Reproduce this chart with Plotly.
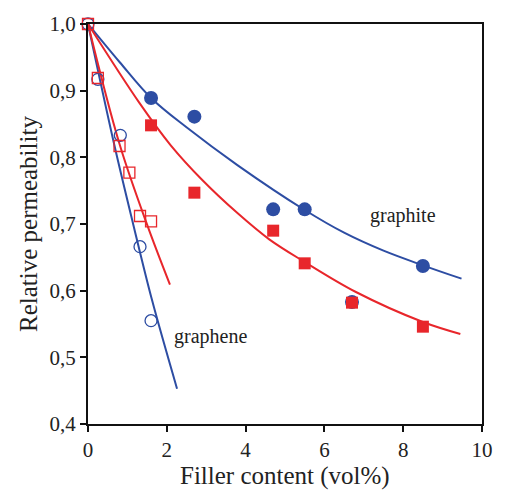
import plotly.graph_objects as go

# Measured permeability (filled: graphite, open: graphene)
graphite_circ_x = [1.6, 2.7, 4.7, 5.5, 6.7, 8.5]
graphite_circ_y = [0.889, 0.861, 0.722, 0.722, 0.583, 0.637]
graphite_sq_x = [1.6, 2.7, 4.7, 5.5, 6.7, 8.5]
graphite_sq_y = [0.848, 0.747, 0.690, 0.641, 0.582, 0.546]

graphene_circ_x = [0.0, 0.25, 0.82, 1.32, 1.6]
graphene_circ_y = [1.0, 0.917, 0.833, 0.666, 0.555]
graphene_sq_x = [0.0, 0.25, 0.8, 1.05, 1.32, 1.6]
graphene_sq_y = [1.0, 0.919, 0.817, 0.777, 0.712, 0.704]

# Model curves
fit_graphite_blue_x = [0.0, 0.8, 1.6, 2.5, 3.8, 5.5, 6.5, 7.5, 8.5, 9.48]
fit_graphite_blue_y = [1.0, 0.943, 0.889, 0.845, 0.788, 0.721, 0.687, 0.660, 0.638, 0.618]
fit_graphite_red_x = [0.0, 1.3, 2.1, 2.9, 3.8, 4.6, 5.5, 6.8, 8.5, 9.45]
fit_graphite_red_y = [1.0, 0.882, 0.818, 0.766, 0.716, 0.677, 0.643, 0.598, 0.553, 0.535]
fit_graphene_blue_x = [0.0, 0.67, 1.15, 1.62, 2.26]
fit_graphene_blue_y = [1.0, 0.818, 0.699, 0.587, 0.453]
fit_graphene_red_x = [0.0, 0.8, 1.5, 2.08]
fit_graphene_red_y = [1.0, 0.820, 0.699, 0.609]

x_ticks = [0, 2, 4, 6, 8, 10]
y_ticks = [0.4, 0.5, 0.6, 0.7, 0.8, 0.9, 1.0]
y_tick_text = ["0,4", "0,5", "0,6", "0,7", "0,8", "0,9", "1,0"]

BLUE = "#2d4da3"
RED = "#e8262b"
FONT = "Liberation Serif"

fig = go.Figure()

for fx, fy, col in [
    (fit_graphite_blue_x, fit_graphite_blue_y, BLUE),
    (fit_graphite_red_x, fit_graphite_red_y, RED),
    (fit_graphene_blue_x, fit_graphene_blue_y, BLUE),
    (fit_graphene_red_x, fit_graphene_red_y, RED),
]:
    fig.add_trace(go.Scatter(
        x=fx, y=fy, mode="lines",
        line=dict(color=col, width=2, shape="spline", smoothing=1.0),
        showlegend=False, hoverinfo="skip",
    ))

fig.add_trace(go.Scatter(
    x=graphite_circ_x, y=graphite_circ_y, mode="markers",
    marker=dict(symbol="circle", size=14, color=BLUE, line=dict(width=0)),
    showlegend=False, cliponaxis=False,
))
fig.add_trace(go.Scatter(
    x=graphite_sq_x, y=graphite_sq_y, mode="markers",
    marker=dict(symbol="square", size=12, color=RED, line=dict(width=0)),
    showlegend=False, cliponaxis=False,
))
fig.add_trace(go.Scatter(
    x=graphene_circ_x, y=graphene_circ_y, mode="markers",
    marker=dict(symbol="circle-open", size=12, color=BLUE, line=dict(width=1.3)),
    showlegend=False, cliponaxis=False,
))
fig.add_trace(go.Scatter(
    x=graphene_sq_x, y=graphene_sq_y, mode="markers",
    marker=dict(symbol="square-open", size=11, color=RED, line=dict(width=1.3)),
    showlegend=False, cliponaxis=False,
))

fig.add_annotation(x=8.0, y=0.713, text="graphite", showarrow=False,
                   font=dict(family=FONT, size=20, color="#222"))
fig.add_annotation(x=3.12, y=0.531, text="graphene", showarrow=False,
                   font=dict(family=FONT, size=20, color="#222"))

fig.add_annotation(xref="paper", yref="paper", x=0.5, y=0, yanchor="middle",
                   yshift=-52, text="Filler content (vol%)", showarrow=False,
                   font=dict(family=FONT, size=25, color="#222"))
fig.add_annotation(xref="paper", yref="paper", x=0, y=0.5, xanchor="center",
                   xshift=-60, text="Relative permeability", textangle=-90,
                   showarrow=False, font=dict(family=FONT, size=25, color="#222"))

axis_common = dict(
    showline=True, linecolor="#111", linewidth=2, mirror=True,
    ticks="outside", ticklen=6, tickwidth=2, tickcolor="#111",
    showgrid=False, zeroline=False,
    tickfont=dict(family=FONT, size=21, color="#222"),
)

fig.update_xaxes(range=[0, 10], tickvals=x_ticks, **axis_common)
fig.update_yaxes(range=[0.4, 1.0], tickvals=y_ticks, ticktext=y_tick_text, **axis_common)

fig.update_layout(
    width=505, height=496,
    margin=dict(l=88, r=14, t=21, b=72),
    paper_bgcolor="white", plot_bgcolor="white",
)

fig.write_html("out.html")
